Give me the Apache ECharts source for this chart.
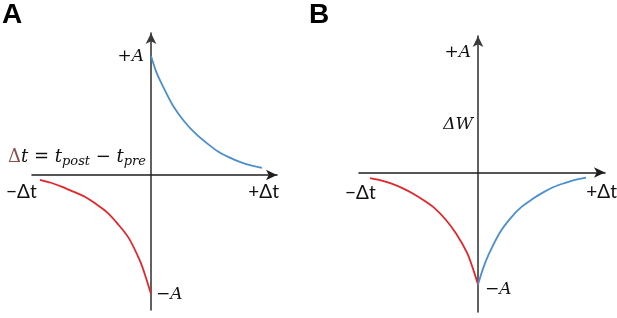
<!DOCTYPE html>
<html>
<head>
<meta charset="utf-8">
<script src="https://cdn.jsdelivr.net/npm/echarts@6/dist/echarts.min.js"></script>
<style>
  html,body{margin:0;padding:0;background:#fff;}
  #chart{width:617px;height:318px;}
</style>
</head>
<body>
<div id="chart"></div>
<script>
// panel A : causal STDP window (A = 1, Δt range = ±1)
var A_PRE_X  = [-1.0, -0.9, -0.8, -0.7, -0.6, -0.5, -0.4, -0.3, -0.2, -0.1, -0.05, 0];
var A_PRE_Y  = [-0.04, -0.065, -0.10, -0.14, -0.18, -0.24, -0.31, -0.41, -0.53, -0.72, -0.85, -1.0];
var A_POST_X = [0, 0.05, 0.1, 0.2, 0.3, 0.4, 0.5, 0.6, 0.7, 0.8, 0.9, 1.0];
var A_POST_Y = [1.0, 0.86, 0.76, 0.58, 0.45, 0.35, 0.27, 0.20, 0.15, 0.11, 0.08, 0.06];

// panel B : symmetric depression window
var B_PRE_X  = [-1.0, -0.9, -0.8, -0.7, -0.6, -0.5, -0.4, -0.3, -0.2, -0.1, -0.05, 0];
var B_PRE_Y  = [-0.05, -0.07, -0.10, -0.14, -0.19, -0.25, -0.32, -0.42, -0.55, -0.72, -0.85, -1.0];
var B_POST_X = [0, 0.05, 0.1, 0.2, 0.3, 0.4, 0.5, 0.6, 0.7, 0.8, 0.9, 1.0];
var B_POST_Y = [-1.0, -0.85, -0.73, -0.54, -0.41, -0.31, -0.24, -0.18, -0.13, -0.095, -0.065, -0.045];

var RED = '#e3262b', BLUE = '#4a8fcf', AXIS = '#1e1e1e';

function pairs(xs, ys){
  return xs.map(function(x, i){ return [x, ys[i]]; });
}

function xAx(gi, min, max){
  return {
    type:'value', gridIndex:gi, min:min, max:max,
    axisLine:{show:true, onZero:true, symbol:['none','arrow'], symbolSize:[8,11],
      lineStyle:{color:AXIS, width:1.6}},
    axisTick:{show:false}, axisLabel:{show:false}, splitLine:{show:false}
  };
}
function yAx(gi, min, max){
  return {
    type:'value', gridIndex:gi, min:min, max:max,
    axisLine:{show:true, onZero:true, symbol:['none','arrow'], symbolSize:[8,11],
      lineStyle:{color:'#3a3a3a', width:1.6}},
    axisTick:{show:false}, axisLabel:{show:false}, splitLine:{show:false}
  };
}
function curve(name, xi, data, color){
  return {
    name:name, type:'line', xAxisIndex:xi, yAxisIndex:xi, data:data,
    smooth:0.3, showSymbol:false, silent:true,
    lineStyle:{color:color, width:1.8}
  };
}

var MATH = {fontFamily:'"DejaVu Serif"', fontStyle:'italic', fill:'#111'};
var SANS = {fontFamily:'Lato, "Open Sans", sans-serif', fill:'#111'};

function txt(x, y, s, font, size, align){
  return {
    type:'text', x:x, y:y, silent:true,
    style:Object.assign({text:s, fontSize:size, align:align || 'left', verticalAlign:'middle'}, font)
  };
}

var chart = echarts.init(document.getElementById('chart'));
chart.setOption({
  animation:false,
  backgroundColor:'#fff',
  grid:[
    {left:32, top:33, width:245, height:277},
    {left:359, top:36, width:246, height:276}
  ],
  xAxis:[xAx(0, -1.072, 1.135), xAx(1, -1.102, 1.176)],
  yAxis:[yAx(0, -1.134, 1.193), yAx(1, -1.246, 1.219)],
  series:[
    curve('A pre',  0, pairs(A_PRE_X, A_PRE_Y), RED),
    curve('A post', 0, pairs(A_POST_X, A_POST_Y), BLUE),
    curve('B pre',  1, pairs(B_PRE_X, B_PRE_Y), RED),
    curve('B post', 1, pairs(B_POST_X, B_POST_Y), BLUE)
  ],
  graphic:[
    {type:'text', x:2, y:1, style:{text:'A', fontSize:28, fontWeight:'bold', fontFamily:'"Liberation Sans", Arial', fill:'#000'}},
    {type:'text', x:309, y:1, style:{text:'B', fontSize:28, fontWeight:'bold', fontFamily:'"Liberation Sans", Arial', fill:'#000'}},

    txt(144, 57, '+A', MATH, 17, 'right'),
    txt(156, 295, '\u2212A', MATH, 17),
    txt(6, 192, '\u2212\u0394t', SANS, 19),
    txt(279, 192, '+\u0394t', SANS, 19, 'right'),
    {
      type:'text', x:8, y:157, silent:true,
      style:{
        text:'{d|\u0394}{m|t = t}{s|post}{m| \u2212 t}{s|pre}',
        verticalAlign:'middle',
        rich:{
          d:{fontFamily:'"DejaVu Serif"', fontSize:18, fill:'#8a4f4f', lineHeight:24},
          m:{fontFamily:'"DejaVu Serif"', fontStyle:'italic', fontSize:18, fill:'#111', lineHeight:24},
          s:{fontFamily:'"DejaVu Serif"', fontStyle:'italic', fontSize:13, fill:'#111', lineHeight:24, padding:[10,0,0,0]}
        }
      }
    },

    txt(471, 53, '+A', MATH, 17, 'right'),
    txt(473, 125, '\u0394W', MATH, 17, 'right'),
    txt(485, 290, '\u2212A', MATH, 17),
    txt(345, 193, '\u2212\u0394t', SANS, 19),
    txt(617, 192, '+\u0394t', SANS, 19, 'right')
  ]
});
</script>
</body>
</html>
